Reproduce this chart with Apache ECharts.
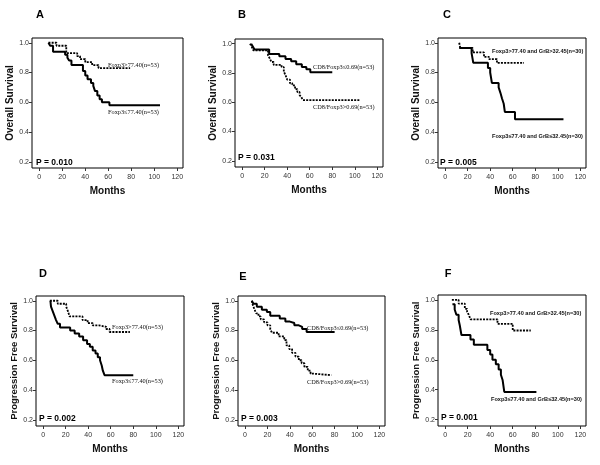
<!DOCTYPE html>
<html>
<head>
<meta charset="utf-8">
<script src="https://cdn.jsdelivr.net/npm/echarts@6/dist/echarts.min.js"></script>
<style>
  html, body { margin: 0; padding: 0; background: #fff; }
  #main { width: 600px; height: 465px; }
</style>
</head>
<body>
<div id="main"></div>
<script>
// tick labels
const monthTicks = [0, 20, 40, 60, 80, 100, 120];
const survTicks = [0.2, 0.4, 0.6, 0.8, 1.0];

// KM curves, [month, survival] at each step
const aHigh = [[8,1.0],[15,0.98],[23.5,0.93],[33,0.91],[35.5,0.89],[40,0.87],[46,0.85],[51.5,0.83],[79,0.83]];
const aLow = [[8,1.0],[9.5,0.98],[12,0.94],[22.5,0.92],[24.5,0.9],[26,0.88],[28,0.85],[38,0.81],[40,0.78],[42,0.755],[45,0.73],[47,0.71],[48.5,0.675],[50.5,0.645],[52.5,0.62],[54.5,0.6],[61,0.58],[105,0.58]];

const bLow = [[8,1.0],[9.5,0.98],[11,0.96],[24,0.93],[33,0.915],[38.5,0.895],[43.5,0.88],[48,0.86],[53,0.84],[57,0.825],[60.5,0.805],[80,0.805]];
const bHigh = [[7,1.0],[8.5,0.98],[10,0.955],[23,0.92],[24.5,0.9],[26,0.875],[28,0.855],[35,0.84],[37,0.81],[38.5,0.785],[40,0.755],[42.5,0.73],[44.5,0.715],[47,0.69],[49,0.67],[51,0.65],[52.5,0.635],[54,0.615],[104,0.615]];

const cHigh = [[12.5,1.0],[13.5,0.965],[24.5,0.935],[34.5,0.905],[39,0.89],[46,0.865],[70,0.865]];
const cLow = [[12.5,0.965],[23.5,0.93],[25,0.865],[38,0.83],[40,0.8],[41.5,0.73],[47.5,0.7],[49,0.665],[50.5,0.625],[52,0.59],[53,0.535],[62,0.485],[105,0.485]];

const dHigh = [[6,1.0],[13,0.98],[20.5,0.96],[22,0.93],[23.5,0.895],[35,0.87],[39.5,0.85],[44,0.835],[49.5,0.825],[56,0.81],[59,0.79],[77,0.79]];
const dLow = [[6.5,1.0],[7,0.96],[8.5,0.93],[10,0.9],[11.5,0.87],[13,0.845],[15,0.82],[24,0.8],[28,0.78],[32,0.76],[35.5,0.735],[39,0.71],[41.5,0.69],[44,0.665],[46.5,0.645],[48.5,0.62],[50.5,0.6],[52,0.565],[53,0.53],[54.5,0.5],[80,0.5]];

const eLow = [[6,1.0],[7.5,0.98],[10.5,0.96],[15,0.94],[19.5,0.925],[22.5,0.9],[31,0.88],[36,0.86],[40,0.85],[44,0.835],[48,0.825],[51,0.81],[55,0.79],[80,0.79]];
const eHigh = [[6,1.0],[7,0.97],[8.5,0.94],[10,0.915],[12,0.895],[14,0.875],[17,0.855],[20,0.835],[22.5,0.81],[24,0.785],[30,0.76],[35,0.735],[37,0.7],[39.5,0.675],[42,0.65],[45,0.625],[48,0.6],[50.5,0.58],[53,0.555],[56,0.53],[58.5,0.51],[61,0.5],[77,0.5]];

const fHigh = [[6,1.0],[12,0.975],[17.5,0.94],[19.5,0.92],[21,0.9],[22.5,0.87],[46.5,0.84],[60,0.795],[76,0.795]];
const fLow = [[6.5,0.97],[8.5,0.935],[10,0.9],[12,0.865],[13,0.83],[14.5,0.765],[22.5,0.735],[25.5,0.7],[37.5,0.665],[40,0.635],[42,0.6],[45,0.57],[47.5,0.535],[49.5,0.5],[51,0.465],[52.5,0.385],[81,0.385]];

const pValues = ['P = 0.010', 'P = 0.031', 'P = 0.005', 'P = 0.002', 'P = 0.003', 'P = 0.001'];
const letters = ['A', 'B', 'C', 'D', 'E', 'F'];
const yTitles = ['Overall Survival', 'Overall Survival', 'Overall Survival',
  'Progression Free Survival', 'Progression Free Survival', 'Progression Free Survival'];
const curveLabels = [
  ['Foxp3>77.40(n=53)', 'Foxp3≤77.40(n=53)'],
  ['CD8/Foxp3≤0.69(n=53)', 'CD8/Foxp3>0.69(n=53)'],
  ['Foxp3>77.40 and GrB>32.45(n=30)', 'Foxp3≤77.40 and GrB≤32.45(n=30)'],
  ['Foxp3>77.40(n=53)', 'Foxp3≤77.40(n=53)'],
  ['CD8/Foxp3≤0.69(n=53)', 'CD8/Foxp3>0.69(n=53)'],
  ['Foxp3>77.40 and GrB>32.45(n=30)', 'Foxp3≤77.40 and GrB≤32.45(n=30)']
];
// [solid, dotted] per panel
const curves = [[aLow, aHigh], [bLow, bHigh], [cLow, cHigh], [dLow, dHigh], [eLow, eHigh], [fLow, fHigh]];

// layout
const frames = [
  {left: 32, top: 38, width: 151, height: 130},
  {left: 235, top: 39, width: 148, height: 128},
  {left: 438, top: 38, width: 148, height: 130},
  {left: 36, top: 296, width: 148, height: 130},
  {left: 238, top: 296, width: 147, height: 130},
  {left: 438, top: 295, width: 148, height: 131}
];
const letterPos = [[40,15],[242,15],[447,15],[43,274],[243,277],[448,274]];
const pPos = [[36,163],[238,158],[440,163],[39,419],[241,419],[441,418]];
const labelPos = [
  [[108,65],[108,112]],
  [[313,67],[313,107]],
  [[492,51],[492,136]],
  [[112,327],[112,381]],
  [[307,328],[307,382]],
  [[490,313],[491,399]]
];

let chart = echarts.init(document.getElementById('main'), null, {renderer: 'canvas'});

let grid = [], xAxis = [], yAxis = [], series = [], graphic = [];
frames.forEach((f, i) => {
  grid.push({
    left: f.left, top: f.top, width: f.width, height: f.height,
    show: true, borderColor: '#000', borderWidth: 1, backgroundColor: 'transparent'
  });
  xAxis.push({
    type: 'value', gridIndex: i, min: -6.3, max: 125,
    name: 'Months', nameLocation: 'middle', nameGap: 18,
    nameTextStyle: {fontFamily: 'Liberation Sans', fontWeight: 'bold', fontSize: 10, color: '#111'},
    axisLine: {show: false, onZero: false},
    axisTick: {show: true, length: 3, customValues: monthTicks, lineStyle: {color: '#333'}},
    axisLabel: {show: true, margin: 6, customValues: monthTicks, fontFamily: 'Liberation Sans', fontSize: 7, color: '#333'},
    splitLine: {show: false}
  });
  yAxis.push({
    type: 'value', gridIndex: i, min: 0.158, max: 1.032,
    name: yTitles[i], nameLocation: 'middle', nameGap: i < 3 ? 13 : 12,
    nameTextStyle: {fontFamily: 'Liberation Sans', fontWeight: 'bold', fontSize: i < 3 ? 10 : 9.5, color: '#111'},
    axisLine: {show: false, onZero: false},
    axisTick: {show: true, length: 3, customValues: survTicks, lineStyle: {color: '#333'}},
    axisLabel: {show: true, margin: 3, customValues: survTicks, fontFamily: 'Liberation Sans', fontSize: 7, color: '#333',
      formatter: v => v.toFixed(1)},
    splitLine: {show: false}
  });
  series.push({
    type: 'line', xAxisIndex: i, yAxisIndex: i, step: 'end', showSymbol: false,
    data: curves[i][0],
    lineStyle: {color: '#000', width: 2}
  });
  series.push({
    type: 'line', xAxisIndex: i, yAxisIndex: i, step: 'end', showSymbol: false,
    data: curves[i][1],
    lineStyle: {color: '#000', width: 1.8, type: [2, 1.2]}
  });
  graphic.push({
    type: 'text', x: letterPos[i][0], y: letterPos[i][1],
    style: {text: letters[i], font: 'bold 11px "Liberation Sans"', fill: '#000', align: 'center', verticalAlign: 'middle'}
  });
  graphic.push({
    type: 'text', x: pPos[i][0], y: pPos[i][1],
    style: {text: pValues[i], font: 'bold 8.5px "Liberation Sans"', fill: '#000', align: 'left', verticalAlign: 'middle'}
  });
  let wide = (i == 2 || i == 5);
  labelPos[i].forEach((p, k) => {
    graphic.push({
      type: 'text', x: p[0], y: p[1],
      style: {
        text: curveLabels[i][k],
        font: wide ? 'bold 5.6px "Liberation Sans"' : '6.3px "Liberation Serif"',
        fill: '#111', align: 'left', verticalAlign: 'middle'
      }
    });
  });
});

chart.setOption({
  animation: false,
  backgroundColor: '#fff',
  grid, xAxis, yAxis, series, graphic
});
</script>
</body>
</html>
